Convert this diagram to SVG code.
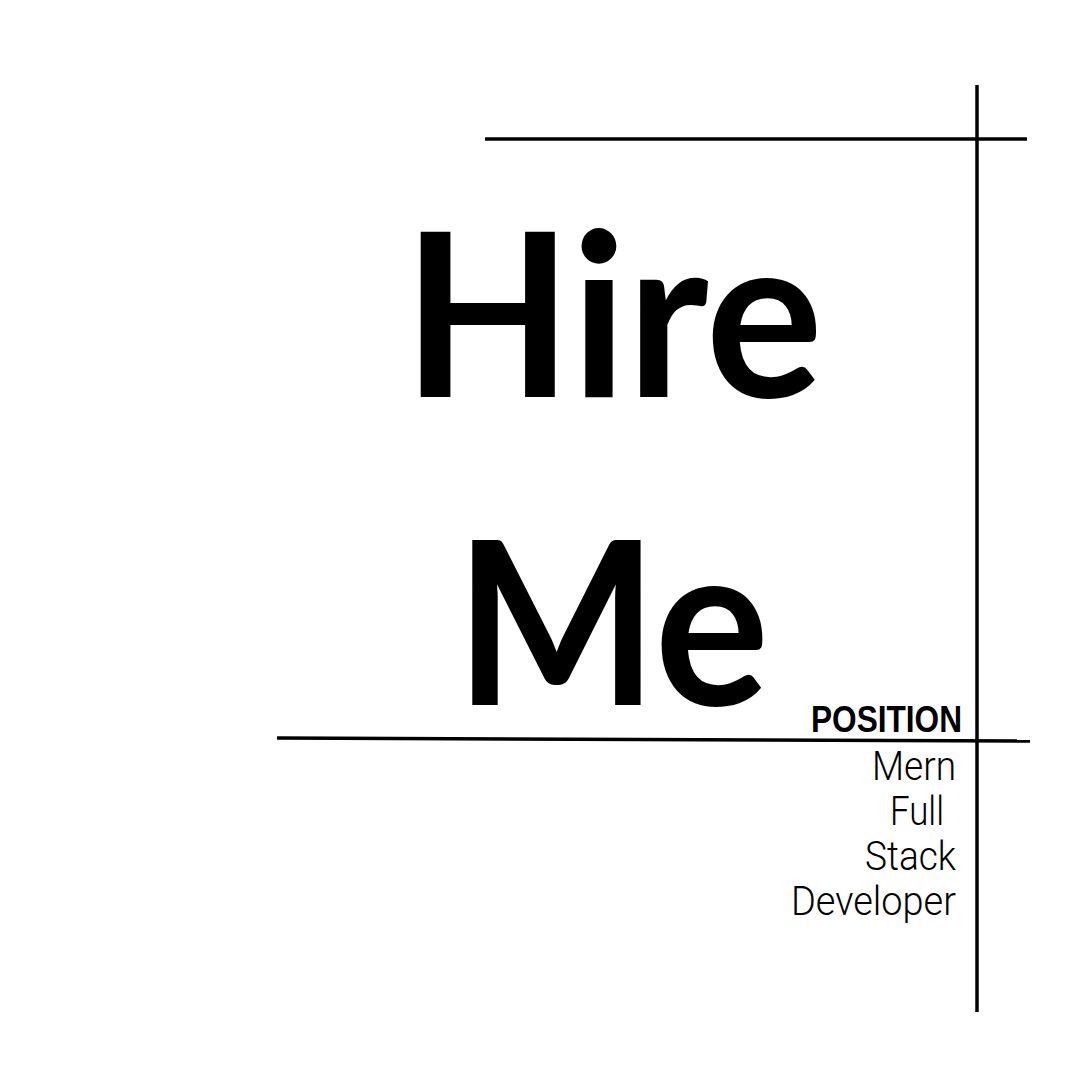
<svg xmlns="http://www.w3.org/2000/svg" width="1080" height="1080" viewBox="0 0 1080 1080">
<style>
.ln{stroke:#000;stroke-width:3.5;fill:none}
.big{font-family:Lato,"Liberation Sans",sans-serif;font-weight:bold;font-size:228px;fill:#000}
.pos{font-family:"Liberation Sans",Arial,sans-serif;font-weight:bold;font-size:36px;fill:#000}
.sub{font-family:Roboto,"Liberation Sans",sans-serif;font-weight:300;font-size:40px;fill:#000}
</style>
<rect width="1080" height="1080" fill="#fff"/>
<g id="lines">
<line class="ln" x1="485" y1="139" x2="1027" y2="139"/>
<line class="ln" x1="977" y1="85" x2="977" y2="1012"/>
<line class="ln" x1="277" y1="738" x2="1030" y2="741"/>
</g>
<g id="title">
<text class="big" x="403" y="397" textLength="420" lengthAdjust="spacingAndGlyphs">Hire</text>
<text class="big" x="455" y="705" textLength="314" lengthAdjust="spacingAndGlyphs">Me</text>
</g>
<g id="position">
<text class="pos" x="811" y="732" textLength="151" lengthAdjust="spacingAndGlyphs">POSITION</text>
<text class="sub" x="872" y="780" textLength="84" lengthAdjust="spacingAndGlyphs">Mern</text>
<text class="sub" x="890" y="825" textLength="54" lengthAdjust="spacingAndGlyphs">Full</text>
<text class="sub" x="865" y="870" textLength="91" lengthAdjust="spacingAndGlyphs">Stack</text>
<text class="sub" x="791" y="915" textLength="165" lengthAdjust="spacingAndGlyphs">Developer</text>
</g>
</svg>
